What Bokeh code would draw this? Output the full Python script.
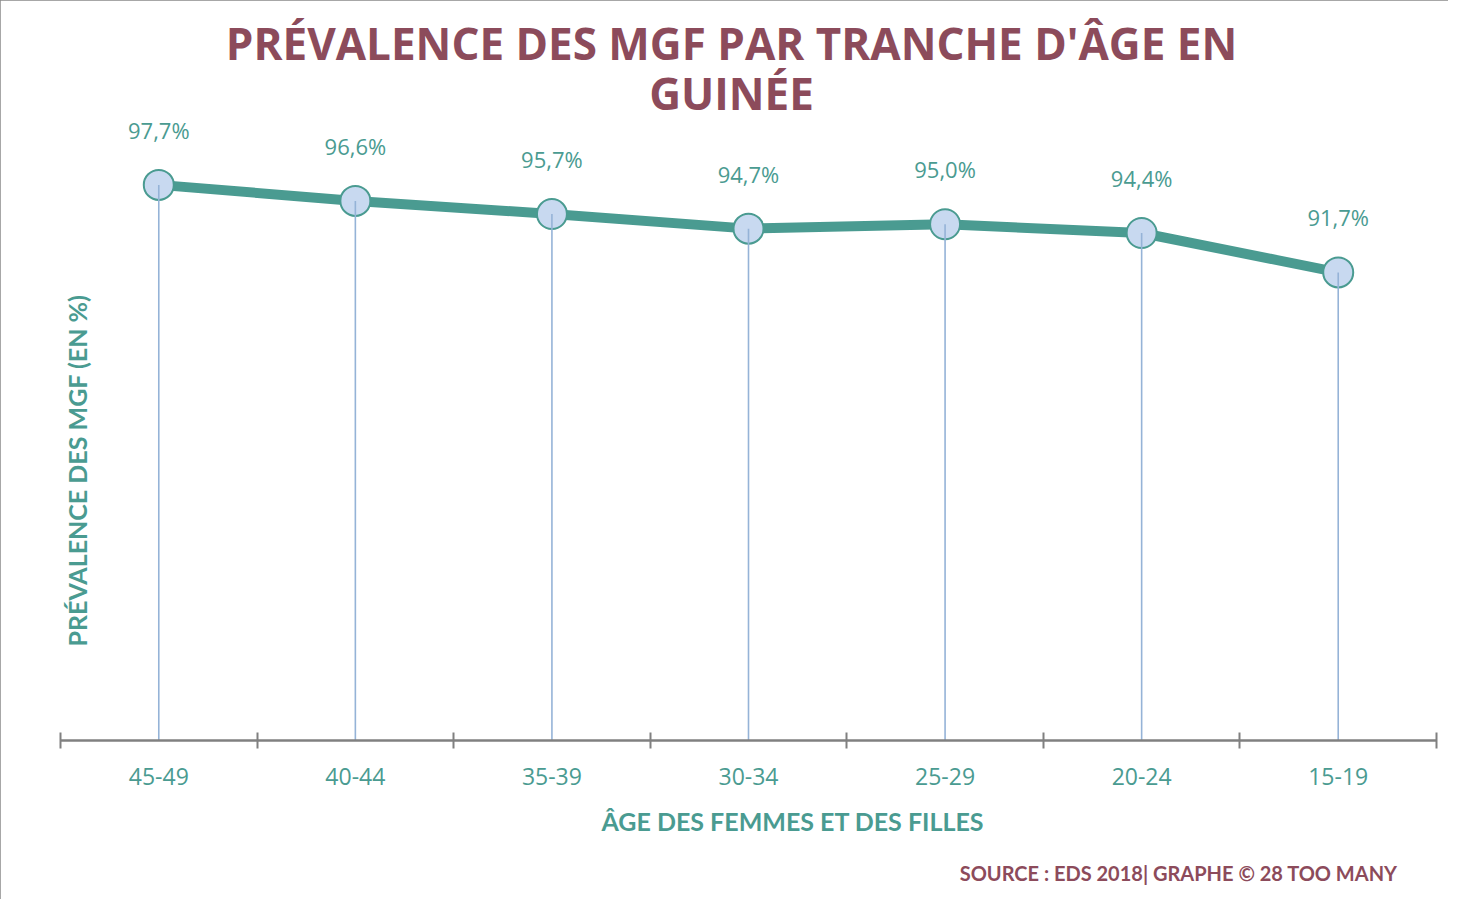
import math
from bokeh.plotting import figure
from bokeh.models import (Range1d, FixedTicker, Label, LabelSet, ColumnDataSource, Title)
from bokeh.core.properties import value
from bokeh.embed import file_html
from bokeh.resources import INLINE

# ---- data ----
categories = ["45-49", "40-44", "35-39", "30-34", "25-29", "20-24", "15-19"]
prevalence = [97.7, 96.6, 95.7, 94.7, 95.0, 94.4, 91.7]
title_lines = ["PRÉVALENCE DES MGF PAR TRANCHE D'ÂGE EN", "GUINÉE"]
x_title = "ÂGE DES FEMMES ET DES FILLES"
y_title = "PRÉVALENCE  DES MGF (EN %)"
source_text = "SOURCE : EDS 2018|  GRAPHE © 28 TOO MANY"

TEAL = "#4A9B91"
MAUVE = "#8C4B5B"
GRAY = "#808080"

xs = [i + 0.5 for i in range(len(categories))]
labels = [f"{v:.1f}%".replace(".", ",") for v in prevalence]
Y0 = 59.6

src = ColumnDataSource(dict(x=xs, y=prevalence, lab=labels, y0=[Y0] * len(xs)))

p = figure(width=1448, height=899, output_backend="svg", toolbar_location=None,
           x_range=Range1d(0, len(categories)), y_range=Range1d(Y0, 110.0),
           min_border_left=60, min_border_right=12, min_border_top=5,
           min_border_bottom=159)
p.outline_line_color = None
p.grid.visible = False
p.yaxis.visible = False
p.background_fill_color = "white"
p.border_fill_color = "white"
p.styles = {"outline": "2px solid #8a8a8a", "outline-offset": "-2px"}

ax = p.xaxis[0]
ax.ticker = FixedTicker(ticks=xs, minor_ticks=list(range(len(categories) + 1)))
ax.major_label_overrides = {x: c for x, c in zip(xs, categories)}
ax.major_tick_in = 0
ax.major_tick_out = 0
ax.minor_tick_in = 8
ax.minor_tick_out = 8
ax.minor_tick_line_color = GRAY
ax.minor_tick_line_width = 2
ax.axis_line_color = GRAY
ax.axis_line_width = 2.5
ax.major_label_text_color = TEAL
ax.major_label_text_font = "Open Sans"
ax.major_label_text_font_size = "23px"
ax.major_label_standoff = 19

# main line
p.line("x", "y", source=src, line_color=TEAL, line_width=10)
# markers
p.scatter("x", "y", source=src, size=30, fill_color="#C8D9F0", line_color=TEAL,
          line_width=2)
# drop lines
p.segment("x", "y0", "x", "y", source=src, line_color="#95B3D7", line_width=1.6)

ls = LabelSet(x="x", y="y", text="lab", source=src, y_offset=55,
              text_align="center", text_baseline="middle",
              text_color=TEAL, text_font=value("Open Sans"), text_font_size="22px")
p.add_layout(ls)

# title
for i, t in enumerate(title_lines):
    p.add_layout(Label(x=671, y=698 - 50 * i, x_units="screen", y_units="screen",
                       text=t, text_align="center", text_baseline="middle",
                       text_color=MAUVE, text_font="Open Sans",
                       text_font_style="bold", text_font_size="44px"))

# y axis title (inside frame area)
p.add_layout(Label(x=16, y=273, x_units="screen", y_units="screen", text=y_title,
                   angle=math.pi / 2, text_align="center", text_baseline="middle",
                   text_color=TEAL, text_font="Lato", text_font_style="bold",
                   text_font_size="25px"))

# x axis title and source as titles below the axis
xt = Title(text=x_title, align="left", offset=541, standoff=33,
           text_color=TEAL, text_font="Lato", text_font_style="bold",
           text_font_size="25px")
p.add_layout(xt, "below")
st = Title(text=source_text, align="right", offset=34, standoff=13,
           text_color=MAUVE, text_font="Lato", text_font_style="bold",
           text_font_size="20px")
p.add_layout(st, "below")

open("out.html", "w").write(file_html(p, INLINE))
